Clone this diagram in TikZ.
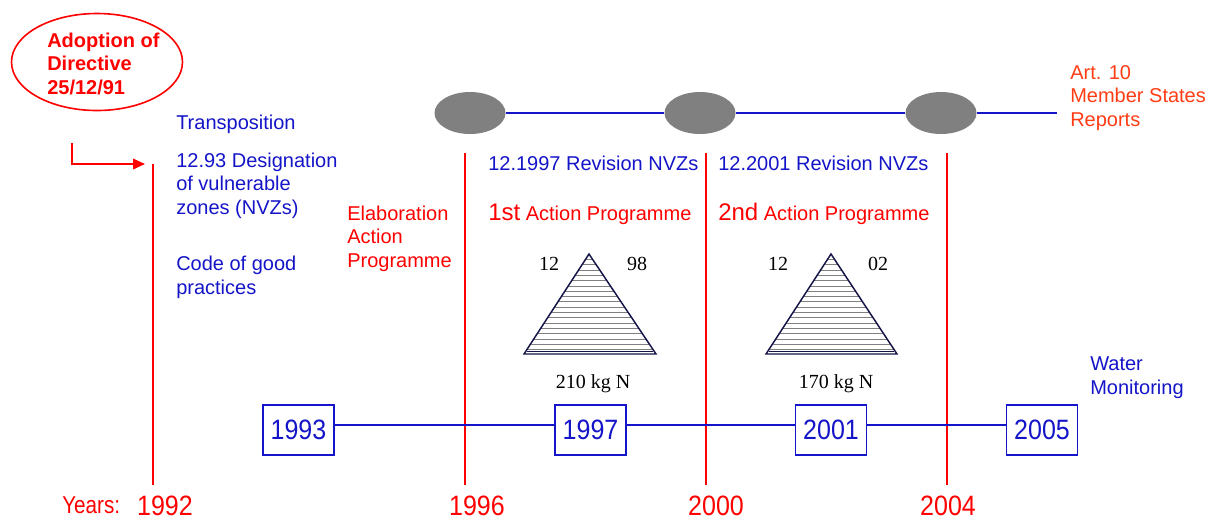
\documentclass[tikz,border=0pt]{standalone}
\usepackage{fontspec}
\setmainfont{Liberation Sans}
\newfontfamily\serifx{Liberation Serif}
\usetikzlibrary{shapes.geometric,arrows.meta}
\definecolor{tblue}{RGB}{20,20,200}
\definecolor{tred}{RGB}{255,0,0}
\definecolor{torange}{RGB}{255,60,20}
\definecolor{tgray}{RGB}{128,128,128}
\definecolor{tnavy}{RGB}{20,20,70}
\newcommand{\tallx}[1]{\scalebox{1}[1.12]{#1}}
\begin{document}
\begin{tikzpicture}[x=0.75pt,y=-0.75pt,
  txt/.style={anchor=base west, inner sep=0pt, align=left, font=\fontsize{15}{17.6}\selectfont},
  bluetxt/.style={txt, text=tblue},
  redtxt/.style={txt, text=tred},
  yearlbl/.style={anchor=base, inner sep=0pt, text=tred, font=\fontsize{18.75}{22}\selectfont},
  yearbox/.style={draw=tblue, line width=1.1pt, text=tblue, minimum width=53.25pt, minimum height=37.5pt, inner sep=0pt, font=\fontsize{18.75}{22}\selectfont},
  grayell/.style={ellipse, fill=tgray, draw=none, minimum width=53.25pt, minimum height=31.5pt, inner sep=0pt},
  redline/.style={tred, line width=1.1pt},
  blueline/.style={tblue, line width=1.1pt},
  numlbl/.style={anchor=base, inner sep=0pt, font=\serifx\fontsize{15}{18}\selectfont},
  hatch/.style={gray, line width=0.45pt},
  trioutline/.style={tnavy, line width=1.1pt, line join=miter}
]
\useasboundingbox (0,0) rectangle (1209,519);

% Adoption ellipse
\node[ellipse, draw=tred, line width=1.2pt, minimum width=128.25pt, minimum height=72.75pt, inner sep=0pt] (adopt) at (97,62) {};
\node[anchor=base west, inner sep=0pt, align=left, text=tred, font=\bfseries\fontsize{15}{17.6}\selectfont] (adopttxt) at (47,94) {Adoption of\\Directive\\25/12/91};

% arrow
\coordinate (arrs) at (72,143);
\coordinate (arre) at (145,164);
\draw[redline, -{Triangle[length=9pt,width=8pt]}] (arrs) |- (arre);

% vertical red lines
\coordinate (v1t) at (153,164); \coordinate (v1b) at (153,485);
\coordinate (v2t) at (465,153); \coordinate (v2b) at (465,485);
\coordinate (v3t) at (706,153); \coordinate (v3b) at (706,485);
\coordinate (v4t) at (947,153); \coordinate (v4b) at (947,485);
\draw[redline] (v1t) -- (v1b);
\draw[redline] (v2t) -- (v2b);
\draw[redline] (v3t) -- (v3b);
\draw[redline] (v4t) -- (v4b);

% year labels
\node[anchor=base west, inner sep=0pt, text=tred, font=\fontsize{15.5}{18}\selectfont] (yrs) at (62,513) {\scalebox{1}[1.18]{Years:}};
\node[yearlbl] (y1992) at (165,515) {\tallx{1992}};
\node[yearlbl] (y1996) at (477,515) {\tallx{1996}};
\node[yearlbl] (y2000) at (716,515) {\tallx{2000}};
\node[yearlbl] (y2004) at (948,515) {\tallx{2004}};

% top line with gray ellipses
\node[grayell] (g1) at (470,113) {};
\node[grayell] (g2) at (700,113) {};
\node[grayell] (g3) at (941,113) {};
\coordinate (topend) at (1057,113);
\draw[blueline] (g1.east) -- (g2.west);
\draw[blueline] (g2.east) -- (g3.west);
\draw[blueline] (g3.east) -- (topend);

% texts left (multi-line nodes: base = last line)
\node[bluetxt] (transp) at (176,129) {Transposition};
\node[bluetxt] (design) at (176,214) {12.93 Designation\\of vulnerable\\zones (NVZs)};
\node[bluetxt] (code) at (176,294) {Code of good\\practices};
\node[redtxt] (elab) at (347,267) {Elaboration\\Action\\Programme};

\node[bluetxt] (rev97) at (488,170) {12.1997 Revision NVZs};
\node[bluetxt] (rev01) at (718,170) {12.2001 Revision NVZs};
\node[redtxt] (ap1) at (488,220) {{\fontsize{18}{18}\selectfont 1st} Action Programme};
\node[redtxt] (ap2) at (718,220) {{\fontsize{18}{18}\selectfont 2nd} Action Programme};

\node[txt, text=torange] (art10) at (1070,126) {Art. 10\\Member States\\Reports};
\node[bluetxt] (water) at (1090,394) {Water\\Monitoring};

% triangle 1
\begin{scope}
\clip (589,254) -- (524,354) -- (656,354) -- cycle;
\foreach \yy in {259.3,264.6,...,354} \draw[hatch] (500,\yy) -- (700,\yy);
\end{scope}
\draw[trioutline] (589,254) -- (524,354) -- (656,354) -- cycle;
\draw[tnavy, line width=0.8pt] (527,351.5) -- (653,351.5);
\node[numlbl] (t1a) at (549,270) {12};
\node[numlbl] (t1b) at (637,270) {98};
\node[numlbl] (t1c) at (593,388) {210 kg N};

% triangle 2
\begin{scope}
\clip (831,254) -- (766,354) -- (897,354) -- cycle;
\foreach \yy in {259.3,264.6,...,354} \draw[hatch] (740,\yy) -- (940,\yy);
\end{scope}
\draw[trioutline] (831,254) -- (766,354) -- (897,354) -- cycle;
\draw[tnavy, line width=0.8pt] (769,351.5) -- (894,351.5);
\node[numlbl] (t2a) at (778,270) {12};
\node[numlbl] (t2b) at (878,270) {02};
\node[numlbl] (t2c) at (836,388) {170 kg N};

% year boxes
\node[yearbox] (b1993) at (298.5,430) {\tallx{1993}};
\node[yearbox] (b1997) at (590.5,430) {\tallx{1997}};
\node[yearbox] (b2001) at (831,430) {\tallx{2001}};
\node[yearbox] (b2005) at (1042,430) {\tallx{2005}};
\draw[blueline] ([yshift=3.75pt]b1993.east) -- ([yshift=3.75pt]b1997.west);
\draw[blueline] ([yshift=3.75pt]b1997.east) -- ([yshift=3.75pt]b2001.west);
\draw[blueline] ([yshift=3.75pt]b2001.east) -- ([yshift=3.75pt]b2005.west);
\end{tikzpicture}
\end{document}
